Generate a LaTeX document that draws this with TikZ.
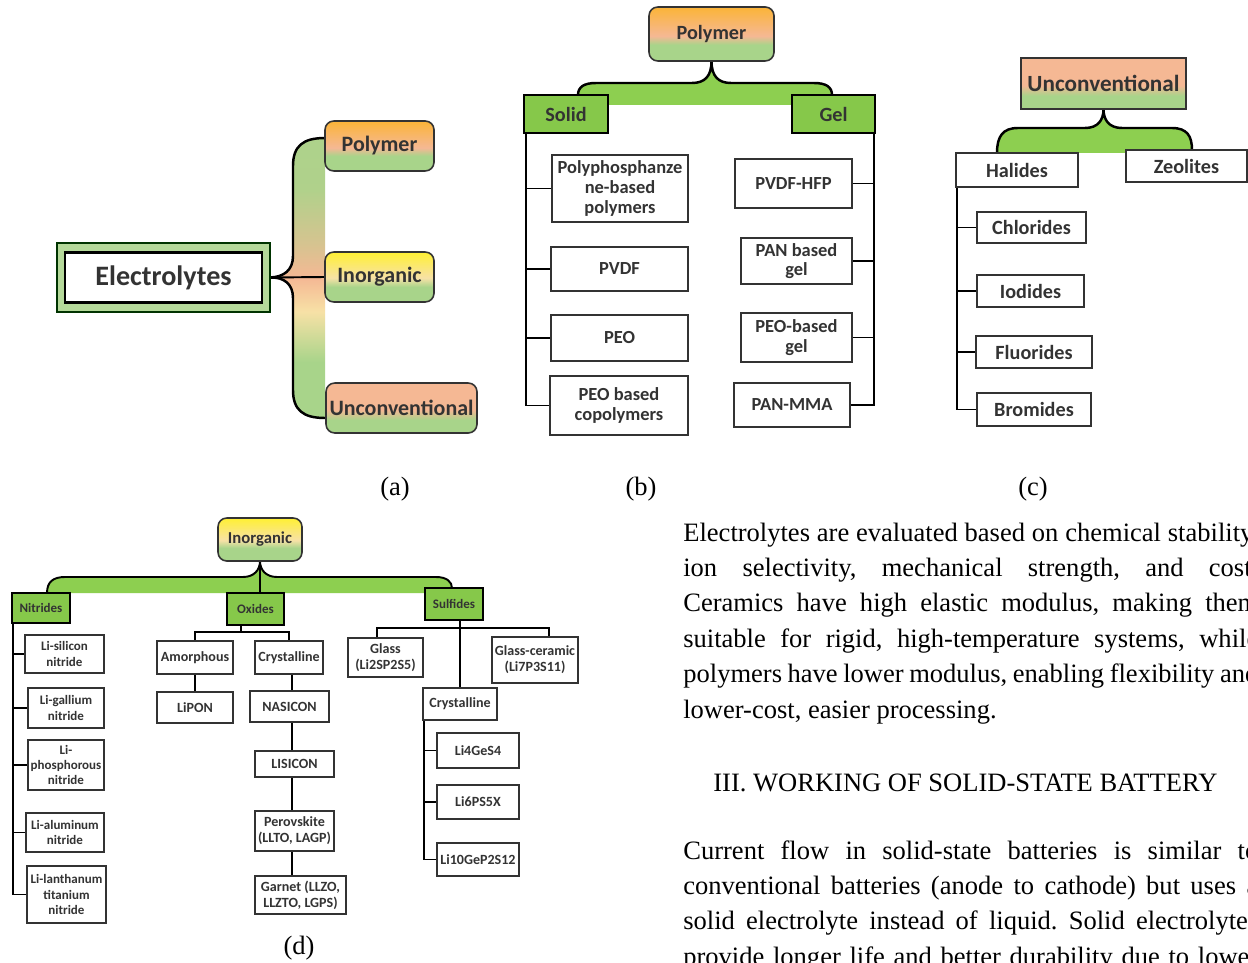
\documentclass[tikz,border=0pt]{standalone}
\usepackage{fontspec}
\setmainfont{Liberation Serif}
\newfontfamily\carlito{Carlito}
\usetikzlibrary{calc,backgrounds}
\frenchspacing

\definecolor{bandgreen}{HTML}{8DCF50}
\definecolor{boxgreen}{HTML}{86C84A}
\definecolor{lightgreen}{HTML}{A8D48A}
\definecolor{framegreen}{HTML}{B5D99A}
\definecolor{peach}{HTML}{F5B894}
\definecolor{orangetop}{HTML}{FBB437}
\definecolor{yellowtop}{HTML}{FFF033}
\definecolor{paleyel}{HTML}{F7E1A6}
\definecolor{inkgray}{HTML}{333333}

% vertical shadings: the box spans 25bp (bottom) .. 75bp (top)
\pgfdeclareverticalshading{polyshade}{100bp}{color(0bp)=(lightgreen); color(40bp)=(lightgreen); color(48bp)=(peach); color(75bp)=(orangetop); color(100bp)=(orangetop)}
\pgfdeclareverticalshading{inorgshade}{100bp}{color(0bp)=(lightgreen); color(40bp)=(lightgreen); color(49bp)=(paleyel); color(75bp)=(yellowtop); color(100bp)=(yellowtop)}
\pgfdeclareverticalshading{unconvshade}{100bp}{color(0bp)=(lightgreen); color(38bp)=(lightgreen); color(48bp)=(peach); color(100bp)=(peach)}
\pgfdeclareverticalshading{braceshade}{100bp}{color(0bp)=(lightgreen); color(35bp)=(lightgreen); color(44bp)=(paleyel); color(50bp)=(peach); color(56bp)=(peach!60!lightgreen); color(66bp)=(lightgreen!90!peach); color(100bp)=(lightgreen)}

\begin{document}
\begin{tikzpicture}[x=0.02cm, y=-0.02cm,
    sz/.style 2 args={minimum width=#1*0.02cm, minimum height=#2*0.02cm},
    base/.style={inner sep=0pt, outer sep=0pt, align=center, text=inkgray},
    head/.style={base, draw=inkgray, line width=0.9pt, rounded corners=5pt, shade},
    grp/.style={base, draw=black, line width=1.4pt, fill=boxgreen},
    leaf/.style={base, draw=inkgray, line width=0.9pt, fill=white},
    link/.style={draw=black, line width=1.1pt},
    dlink/.style={draw=black, line width=0.8pt},
    fbig/.style={font=\carlito\bfseries\fontsize{16}{18}\selectfont},
    fa/.style={font=\carlito\bfseries\fontsize{12.5}{14}\selectfont},
    fb/.style={font=\carlito\bfseries\fontsize{10.5}{11.2}\selectfont},
    fc/.style={font=\carlito\bfseries\fontsize{11.5}{13}\selectfont},
    fd/.style={font=\carlito\bfseries\fontsize{8}{9}\selectfont},
    fdn/.style={font=\carlito\bfseries\fontsize{7.4}{8.6}\selectfont},
    caption/.style={inner sep=0pt, font=\fontsize{15.1}{18}\selectfont},
    body/.style={anchor=base west, inner sep=0pt, font=\fontsize{15.1}{20.2}\selectfont}
]
\useasboundingbox (0,0) rectangle (1248,963);
\clip (0,0) rectangle (1248,963);

% (a) electrolytes
\node[base, sz={213}{69}, draw=black!80!green, line width=1.3pt, fill=framegreen] (elecframe) at (163.5,277.5) {};
\node[base, sz={197}{50}, draw=black, line width=1.2pt, fill=white, fbig] (elec) at (163.5,277.5) {Electrolytes};
\node[head, sz={109}{50}, shading=polyshade, fa] (apoly) at (379.5,146) {Polymer};
\node[head, sz={109}{50}, shading=inorgshade, fa] (ainorg) at (379.5,277) {Inorganic};
\node[head, sz={151}{50}, shading=unconvshade, fa] (aunconv) at (401.5,408) {Unconventional};

% (b) polymer
\node[head, sz={125}{54}, shading=polyshade, font=\carlito\bfseries\fontsize{11.5}{13}\selectfont] (bpoly) at (711.5,34) {Polymer};
\node[grp, sz={84}{38}, fc] (bsolid) at (566,114) {Solid};
\node[grp, sz={83}{38}, fc] (bgel) at (833.5,114) {Gel};
\node[leaf, sz={136}{67}, fb] (bpphos) at (620,188.5) {Polyphosphanze\\ne-based\\polymers};
\node[leaf, sz={137}{44}, fb] (bpvdf) at (619.5,269) {PVDF};
\node[leaf, sz={137}{46}, fb] (bpeo) at (619.5,338) {PEO};
\node[leaf, sz={138}{59}, fb] (bpcop) at (619,405.5) {PEO based\\copolymers};
\node[leaf, sz={117}{49}, fb] (bhfp) at (793.5,183.5) {PVDF-HFP};
\node[leaf, sz={111}{46}, fb] (bpan) at (796.5,261) {PAN based\\gel};
\node[leaf, sz={111}{49}, fb] (bpeog) at (796.5,337.5) {PEO-based\\gel};
\node[leaf, sz={116}{44}, fb] (bmma) at (792,405) {PAN-MMA};

% (c) unconventional
\node[base, draw=inkgray, line width=0.9pt, shade, shading=unconvshade, sz={165}{51}, font=\carlito\bfseries\fontsize{13.2}{15}\selectfont] (cunconv) at (1103.5,83.5) {Unconventional};
\node[leaf, sz={122}{34}, fc] (chal) at (1017,170) {Halides};
\node[leaf, sz={121}{32}, fc] (czeo) at (1186.5,166) {Zeolites};
\node[leaf, sz={109}{31}, fc] (cchl) at (1031.5,227.5) {Chlorides};
\node[leaf, sz={107}{32}, fc] (ciod) at (1030.5,291) {Iodides};
\node[leaf, sz={116}{32}, fc] (cflu) at (1034,352) {Fluorides};
\node[leaf, sz={114}{33}, fc] (cbro) at (1034,409.5) {Bromides};

% (d) inorganic
\node[head, sz={84}{43}, shading=inorgshade, font=\carlito\bfseries\fontsize{9.5}{11}\selectfont] (dinorg) at (260,539.5) {Inorganic};
\node[grp, line width=1.2pt, sz={58}{30}, fdn] (dnit) at (41,608) {Nitrides};
\node[grp, line width=1.2pt, sz={57}{32}, fdn] (doxi) at (255.5,609) {Oxides};
\node[grp, line width=1.2pt, sz={58}{32}, fdn] (dsulf) at (454,604) {Sulfides};
\begin{scope}[every node/.append style={line width=0.7pt}]
\node[leaf, sz={79}{38}, fdn] (dn1) at (64.5,654) {Li-silicon\\nitride};
\node[leaf, sz={76}{40}, fdn] (dn2) at (66,708) {Li-gallium\\nitride};
\node[leaf, sz={76}{50}, fdn] (dn3) at (66,765) {Li-\\phosphorous\\nitride};
\node[leaf, sz={78}{39}, fdn] (dn4) at (65,832.5) {Li-aluminum\\nitride};
\node[leaf, sz={79}{57}, fdn] (dn5) at (66.5,894.5) {Li-lanthanum\\titanium\\nitride};
\node[leaf, sz={76}{33}, fd] (damor) at (195,657.5) {Amorphous};
\node[leaf, sz={68}{33}, fd] (dcrys) at (289,657.5) {Crystalline};
\node[leaf, sz={76}{31}, fd] (dlipon) at (195,707.5) {LiPON};
\node[leaf, sz={79}{31}, fd] (dnas) at (289.5,706.5) {NASICON};
\node[leaf, sz={79}{26}, fd] (dlis) at (294.5,764) {LISICON};
\node[leaf, sz={79}{40}, fd] (dperov) at (294.5,831) {Perovskite\\(LLTO, LAGP)};
\node[leaf, sz={91}{38}, fd] (dgarn) at (300.5,895) {Garnet (LLZO,\\LLZTO, LGPS)};
\node[leaf, sz={75}{39}, fd] (dglass) at (385.5,657.5) {Glass\\(Li2SP2S5)};
\node[leaf, sz={86}{46}, fd] (dgcer) at (535,660) {Glass-ceramic\\(Li7P3S11)};
\node[leaf, sz={74}{32}, fd] (dscrys) at (460,704) {Crystalline};
\node[leaf, sz={82}{35}, fd] (dli4) at (478,750.5) {Li4GeS4};
\node[leaf, sz={82}{34}, fd] (dli6) at (478,802) {Li6PS5X};
\node[leaf, sz={82}{33}, fd] (dli10) at (478,859.5) {Li10GeP2S12};
\end{scope}

% captions
\node[caption] (capa) at (395,489) {(a)};
\node[caption] (capb) at (641,489) {(b)};
\node[caption] (capc) at (1033,489) {(c)};
\node[caption] (capd) at (299,948) {(d)};

% running text
\node[body] (para1) at (683,541) {\parbox[t]{11.5cm}{%
  \makebox[\linewidth][s]{Electrolytes are evaluated based on chemical stability,}\\
  \makebox[\linewidth][s]{ion selectivity, mechanical strength, and cost.}\\
  \makebox[\linewidth][s]{Ceramics have high elastic modulus, making them}\\
  \makebox[\linewidth][s]{suitable for rigid, high-temperature systems, while}\\
  \makebox[\linewidth][s]{polymers have lower modulus, enabling flexibility and}\\
  lower-cost, easier processing.}};
\node[body] (sechead) at (713,791) {III. WORKING OF SOLID-STATE BATTERY};
\node[body] (para2) at (683,859) {\parbox[t]{11.5cm}{%
  \makebox[\linewidth][s]{Current flow in solid-state batteries is similar to}\\
  \makebox[\linewidth][s]{conventional batteries (anode to cathode) but uses a}\\
  \makebox[\linewidth][s]{solid electrolyte instead of liquid. Solid electrolytes}\\
  \makebox[\linewidth][s]{provide longer life and better durability due to lower}}};

\begin{scope}[on background layer]
\fill[white] (0,0) rectangle (1248,963);
% (a) brace
\coordinate (atop) at (325,138);
\coordinate (abot) at (325,418);
\shade[shading=braceshade] (atop) .. controls (303,138) and (293,146) .. (293,166) -- (293,256)
  .. controls (293,270) and (284,277) .. (elecframe.east) .. controls (284,277) and (293,284) .. (293,298)
  -- (293,390) .. controls (293,410) and (303,418) .. (abot) -- cycle;
\draw[link, line width=1.4pt] (atop) .. controls (303,138) and (293,146) .. (293,166) -- (293,256)
  .. controls (293,270) and (284,277) .. (elecframe.east) .. controls (284,277) and (293,284) .. (293,298)
  -- (293,390) .. controls (293,410) and (303,418) .. (abot);
\draw[link] (elecframe.east) -- (ainorg.west);

% (b) brace and spines
\fill[bandgreen] (578,95) .. controls (578,87) and (584,83) .. (596,83) -- (692,83)
  .. controls (705,83) and (711.5,76) .. (bpoly.south) .. controls (711.5,76) and (718,83) .. (731,83)
  -- (814,83) .. controls (826,83) and (832,87) .. (832,95) -- (832,105) -- (578,105) -- cycle;
\draw[link, line width=1.4pt] (578,95) .. controls (578,87) and (584,83) .. (596,83) -- (692,83)
  .. controls (705,83) and (711.5,76) .. (bpoly.south) .. controls (711.5,76) and (718,83) .. (731,83)
  -- (814,83) .. controls (826,83) and (832,87) .. (832,95);
\coordinate (bspine) at ($(bsolid.south west)+(2,0)$);
\coordinate (gspine) at ($(bgel.south east)+(-1,0)$);
\draw[link] (bspine) |- (bpcop.west);
\foreach \n in {bpphos,bpvdf,bpeo} \draw[link] (\n.west) -- (\n.west -| bspine);
\draw[link] (gspine) |- (bmma.east);
\foreach \n in {bhfp,bpan,bpeog} \draw[link] (\n.east) -- (\n.east -| gspine);

% (c) brace and spine
\fill[bandgreen] (997,153) .. controls (997,136) and (1003,128) .. (1018,128) -- (1085,128)
  .. controls (1098,128) and (1103.5,120) .. (cunconv.south) .. controls (1103.5,120) and (1109,128) .. (1122,128)
  -- (1172,128) .. controls (1187,128) and (1192,136) .. (1192,150) -- (1192,153) -- cycle;
\draw[link, line width=1.4pt] (997,153) .. controls (997,136) and (1003,128) .. (1018,128) -- (1085,128)
  .. controls (1098,128) and (1103.5,120) .. (cunconv.south) .. controls (1103.5,120) and (1109,128) .. (1122,128)
  -- (1172,128) .. controls (1187,128) and (1192,136) .. (1192,150);
\coordinate (hspine) at ($(chal.south west)+(1,0)$);
\draw[link] (hspine) |- (cbro.west);
\foreach \n in {cchl,ciod,cflu} \draw[link] (\n.west) -- (\n.west -| hspine);

% (d) brace and links
\fill[bandgreen] (47,593) .. controls (47,582) and (53,577) .. (65,577) -- (243,577)
  .. controls (254,577) and (260,570) .. (dinorg.south) .. controls (260,570) and (266,577) .. (277,577)
  -- (436,577) .. controls (447,577) and (452,582) .. (452,588) -- (452,593) -- cycle;
\draw[link] (47,593) .. controls (47,582) and (53,577) .. (65,577) -- (243,577)
  .. controls (254,577) and (260,570) .. (dinorg.south) .. controls (260,570) and (266,577) .. (277,577)
  -- (436,577) .. controls (447,577) and (452,582) .. (452,588);
\draw[link] (dinorg.south) -- (dinorg.south |- doxi.north);
\coordinate (nspine) at ($(dnit.south west)+(1,0)$);
\draw[link] (nspine) |- (dn5.west);
\foreach \n in {dn1,dn2,dn3,dn4} \draw[link] (\n.west) -- (\n.west -| nspine);
\coordinate (obar) at (241,632);
\draw[dlink] (damor.north) |- (obar) -| (dcrys.north);
\draw[dlink] (obar) -- (obar |- doxi.south);
\draw[dlink] (damor.south) -- (dlipon.north);
\draw[dlink] ($(dcrys.south)+(3,0)$) -- ($(dcrys.south |- dgarn.north)+(3,0)$);
\coordinate (sbarL) at (377,628);
\coordinate (sbarR) at (549,628);
\draw[dlink] (sbarL |- dglass.north) -- (sbarL) -- (sbarR) -- (sbarR |- dgcer.north);
\draw[dlink] (dscrys.north |- dsulf.south) -- (dscrys.north);
\coordinate (cspine) at ($(dscrys.south west)+(1,0)$);
\draw[link] (cspine) |- (dli10.west);
\foreach \n in {dli4,dli6} \draw[link] (\n.west) -- (\n.west -| cspine);
\end{scope}
\end{tikzpicture}
\end{document}
